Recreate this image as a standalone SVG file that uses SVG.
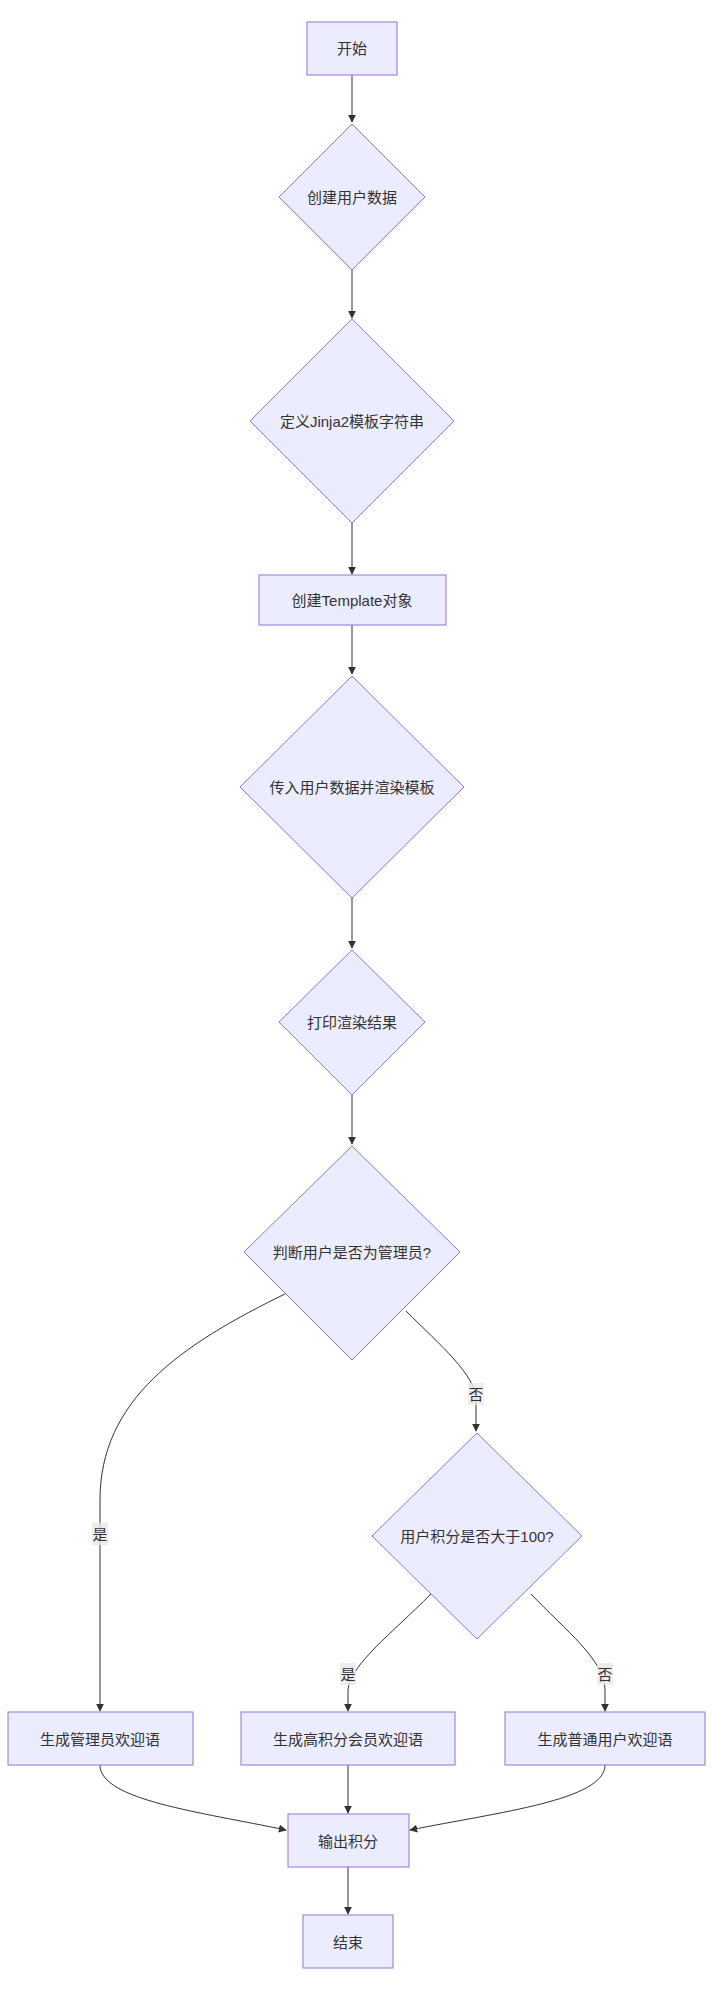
<svg xmlns="http://www.w3.org/2000/svg" width="712" height="1991" viewBox="0 0 712 1991">
<style>
.n{fill:#ECECFF;stroke:#9370DB;stroke-width:1}
.t{font-family:"Liberation Sans","Noto Sans CJK SC",sans-serif;font-size:15px;fill:#333;text-anchor:middle;dominant-baseline:central}
.e{fill:none;stroke:#333;stroke-width:1;marker-end:url(#a)}
.lb{fill:#e8e8e8;opacity:0.8}
</style>
<defs><marker id="a" viewBox="0 0 10 10" refX="9" refY="5" markerWidth="8" markerHeight="8" orient="auto"><path d="M0,0L10,5L0,10z" fill="#333"/></marker></defs>
<rect width="712" height="1991" fill="#fff"/>
<g id="edges">
<path class="e" d="M352,75 L352,122"/>
<path class="e" d="M352,270 L352,318"/>
<path class="e" d="M352,523 L352,574"/>
<path class="e" d="M352,625 L352,674"/>
<path class="e" d="M352,898 L352,948"/>
<path class="e" d="M352,1095 L352,1144"/>
<path class="e" d="M287,1293 C180,1345 100,1400 100,1500 L100,1711"/>
<path class="e" d="M406,1311 C440,1345 476,1375 476,1400 L476,1431"/>
<path class="e" d="M431,1594 C390,1635 350,1665 348,1690 L348,1711"/>
<path class="e" d="M531,1594 C565,1630 605,1660 605,1690 L605,1711"/>
<path class="e" d="M100,1765 C100,1800 200,1812 286,1830"/>
<path class="e" d="M348,1765 L348,1813"/>
<path class="e" d="M605,1765 C605,1800 500,1812 410,1830"/>
<path class="e" d="M348,1867 L348,1914"/>
<rect class="lb" x="468" y="1383" width="16" height="22"/><text class="t" x="476" y="1394">否</text>
<rect class="lb" x="92" y="1523" width="16" height="22"/><text class="t" x="100" y="1534">是</text>
<rect class="lb" x="340" y="1663" width="16" height="22"/><text class="t" x="348" y="1674">是</text>
<rect class="lb" x="597" y="1663" width="16" height="22"/><text class="t" x="605" y="1674">否</text>
</g>
<g id="start"><rect class="n" x="307" y="22" width="90" height="53"/><text class="t" x="352" y="48">开始</text></g>
<g id="d1"><polygon class="n" points="352,124 425,197 352,270 279,197"/><text class="t" x="352" y="197">创建用户数据</text></g>
<g id="d2"><polygon class="n" points="352,319 454,421 352,523 250,421"/><text class="t" x="352" y="421">定义Jinja2模板字符串</text></g>
<g id="tpl"><rect class="n" x="259" y="575" width="187" height="50"/><text class="t" x="352" y="600">创建Template对象</text></g>
<g id="d3"><polygon class="n" points="352,676 464,787 352,898 240,787"/><text class="t" x="352" y="787">传入用户数据并渲染模板</text></g>
<g id="d4"><polygon class="n" points="352,950 425,1022 352,1095 279,1022"/><text class="t" x="352" y="1022">打印渲染结果</text></g>
<g id="d5"><polygon class="n" points="352,1146 460,1252 352,1360 244,1252"/><text class="t" x="352" y="1252">判断用户是否为管理员?</text></g>
<g id="d6"><polygon class="n" points="477,1433 582,1536 477,1639 372,1536"/><text class="t" x="477" y="1536">用户积分是否大于100?</text></g>
<g id="ba"><rect class="n" x="8" y="1712" width="185" height="53"/><text class="t" x="100" y="1739">生成管理员欢迎语</text></g>
<g id="bb"><rect class="n" x="241" y="1712" width="214" height="53"/><text class="t" x="348" y="1739">生成高积分会员欢迎语</text></g>
<g id="bc"><rect class="n" x="505" y="1712" width="200" height="53"/><text class="t" x="605" y="1739">生成普通用户欢迎语</text></g>
<g id="out"><rect class="n" x="288" y="1814" width="121" height="53"/><text class="t" x="348" y="1841">输出积分</text></g>
<g id="end"><rect class="n" x="303" y="1915" width="90" height="53"/><text class="t" x="348" y="1942">结束</text></g>
</svg>
